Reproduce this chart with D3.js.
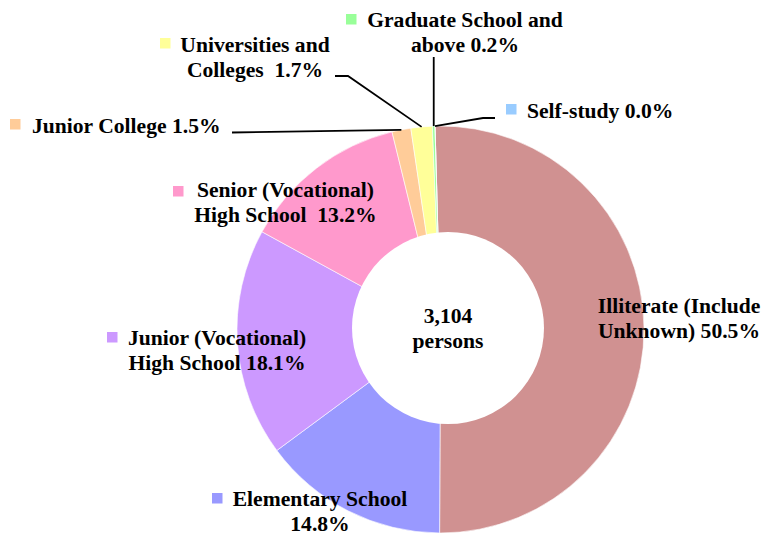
<!DOCTYPE html>
<html>
<head>
<meta charset="utf-8">
<script src="https://cdn.jsdelivr.net/npm/d3@7"></script>
<style>
  body { margin: 0; background: #fff; }
  text { font-family: "Liberation Serif", "Times New Roman", serif; font-weight: bold; font-size: 21.6px; fill: #000; }
</style>
</head>
<body>
<svg id="chart" width="761" height="536"></svg>
<script>
// data
var categories = ["Illiterate (Include Unknown)", "Elementary School", "Junior (Vocational) High School",
  "Senior (Vocational) High School", "Junior College", "Universities and Colleges",
  "Graduate School and above", "Self-study"];
var shares = [50.5, 14.8, 18.1, 13.2, 1.5, 1.7, 0.2, 0.0];
var totalPersons = 3104;
// how each label is split over lines (percentage goes on the last line)
var labelLines = [["Illiterate (Include", "Unknown)"], ["Elementary School", ""], ["Junior (Vocational)", "High School"],
  ["Senior (Vocational)", "High School "], ["Junior College"], ["Universities and", "Colleges "],
  ["Graduate School and", "above"], ["Self-study"]];
var colors = ["#d09191", "#9999ff", "#cc99ff", "#ff99cc", "#ffcc99", "#ffff99", "#99ff99", "#99ccff"];

// layout
var cx = 440.5, cy = 329.5, radius = 203.5;
var holeDx = 7.5, holeDy = -1.5, holeR = 96;
var startAngle = -0.027;
var lineGap = 24.5;
var labelPos = [
  { x: 679, y: 313, anchor: "middle", marker: null },
  { x: 320, y: 506, anchor: "middle", marker: [212, 493] },
  { x: 217, y: 345, anchor: "middle", marker: [107, 332] },
  { x: 285.5, y: 197, anchor: "middle", marker: [173, 186] },
  { x: 32, y: 133, anchor: "start", marker: [10, 119], leader: [[232, 132.5]] },
  { x: 255, y: 52, anchor: "middle", marker: [160, 38], leader: [[348, 76], [335, 76]] },
  { x: 465, y: 27, anchor: "middle", marker: [346, 14], leader: [[null, 57]] },
  { x: 527, y: 118, anchor: "start", marker: [506, 104], leader: [[483, 118], [495, 118]] }
];

var svg = d3.select("#chart");

var pie = d3.pie().sort(null).value(function(d) { return d; })
  .startAngle(startAngle).endAngle(startAngle + 2 * Math.PI);
var arcs = pie(shares);

var arc = d3.arc().innerRadius(0).outerRadius(radius);

var g = svg.append("g").attr("transform", "translate(" + cx + "," + cy + ")");

g.selectAll("path.slice")
  .data(arcs)
  .enter().append("path")
  .attr("class", "slice")
  .attr("d", arc)
  .attr("fill", function(d, i) { return colors[i]; })
  .attr("stroke", "#fff")
  .attr("stroke-width", 0.6);

g.append("circle")
  .attr("cx", holeDx).attr("cy", holeDy).attr("r", holeR)
  .attr("fill", "#fff");

var fmt = d3.format(",");
g.append("text").attr("x", holeDx).attr("y", -6.5).attr("text-anchor", "middle").text(fmt(totalPersons));
g.append("text").attr("x", holeDx).attr("y", 18.5).attr("text-anchor", "middle").text("persons");

// leader lines from the slice edge
arcs.forEach(function(d, i) {
  var lp = labelPos[i];
  if (!lp.leader) return;
  var a = (d.startAngle + d.endAngle) / 2;
  var px = cx + radius * Math.sin(a), py = cy - radius * Math.cos(a);
  var pts = [[px, py]].concat(lp.leader.map(function(p) { return [p[0] == null ? px : p[0], p[1]]; }));
  svg.append("path")
    .attr("d", d3.line()(pts))
    .attr("fill", "none")
    .attr("stroke", "#000")
    .attr("stroke-width", 1.8);
});

// labels
labelPos.forEach(function(lp, i) {
  var lines = labelLines[i].slice();
  var pct = shares[i].toFixed(1) + "%";
  var last = lines.length - 1;
  lines[last] = lines[last] === "" ? pct : lines[last] + " " + pct;
  var t = svg.append("text").attr("text-anchor", lp.anchor).attr("xml:space", "preserve");
  lines.forEach(function(s, k) {
    t.append("tspan").attr("x", lp.x).attr("y", lp.y + k * lineGap).text(s);
  });
  if (lp.marker) {
    svg.append("rect")
      .attr("x", lp.marker[0]).attr("y", lp.marker[1])
      .attr("width", 10.5).attr("height", 10.5)
      .attr("fill", colors[i]);
  }
});
</script>
</body>
</html>
